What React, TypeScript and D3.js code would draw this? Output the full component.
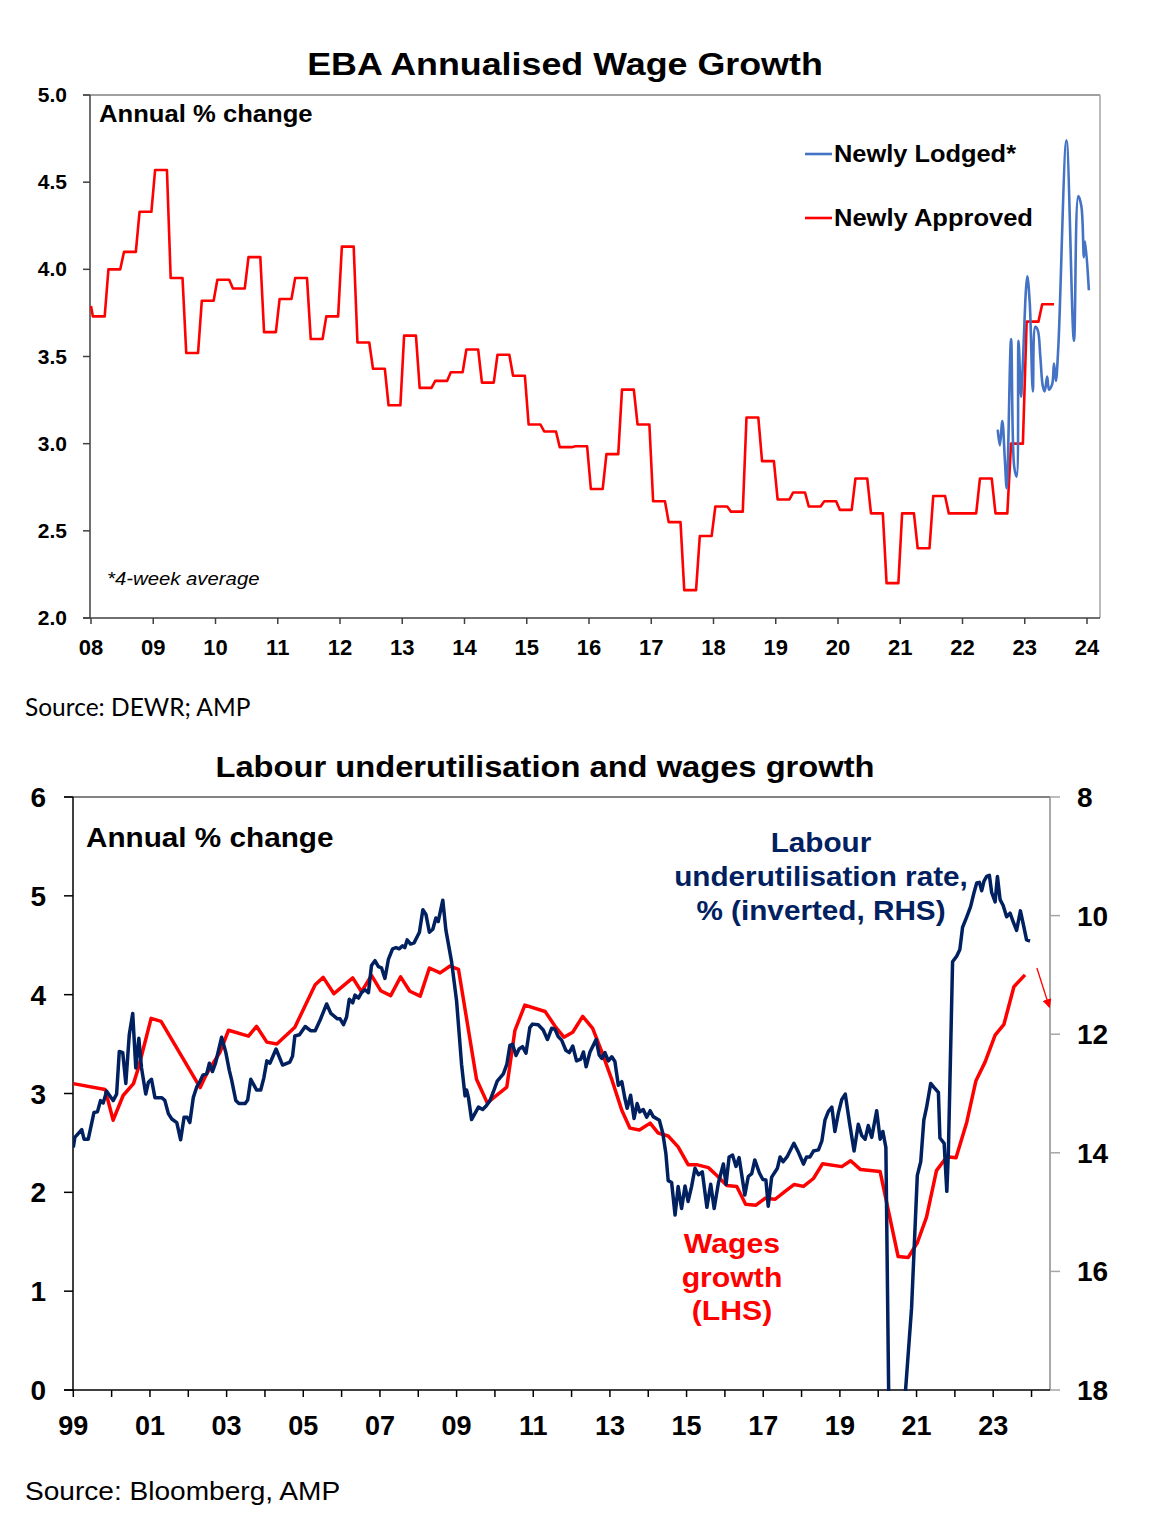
import React, { useEffect } from 'react';
import * as d3 from 'd3';

// ---------- EBA chart data ----------
// Newly approved: quarterly, first quarter = 2008 Q1
const approvedStartYear = 2008;
const approvedPrior = 3.79; // value at the left edge (end of 2007 Q4)
const approvedValues = [
  3.73, 4.0, 4.1, 4.33,
  4.57, 3.95, 3.52, 3.82,
  3.94, 3.89, 4.07, 3.64,
  3.83, 3.95, 3.6, 3.73,
  4.13, 3.58, 3.43, 3.22,
  3.62, 3.32, 3.36, 3.41,
  3.54, 3.35, 3.51, 3.39,
  3.11, 3.07, 2.98, 2.985,
  2.74, 2.94, 3.31, 3.11,
  2.67, 2.55, 2.16, 2.47,
  2.64, 2.61, 3.15, 2.9,
  2.68, 2.72, 2.64, 2.67,
  2.62, 2.8, 2.6, 2.2,
  2.6, 2.4, 2.7, 2.6,
  2.6, 2.8, 2.6, 3.0,
  3.7, 3.8,
];

// Newly lodged (4-week average): [year, %]
const lodged: [number, number][] = [
  [2022.566, 3.08], [2022.6, 2.99], [2022.64, 3.13], [2022.68, 2.91], [2022.71, 2.745],
  [2022.78, 3.6], [2022.83, 2.87], [2022.87, 2.81], [2022.9, 3.59], [2022.94, 3.27],
  [2022.96, 3.38], [2023.04, 3.96], [2023.08, 3.81], [2023.13, 3.3], [2023.17, 3.67],
  [2023.21, 3.65], [2023.25, 3.5], [2023.29, 3.33], [2023.32, 3.3], [2023.36, 3.385],
  [2023.39, 3.31], [2023.44, 3.34], [2023.47, 3.46], [2023.5, 3.36], [2023.54, 3.56],
  [2023.67, 4.74], [2023.79, 3.59], [2023.86, 4.42], [2023.91, 4.36], [2023.95, 4.07],
  [2023.97, 4.16], [2024.03, 3.88],
];

const ebaYTicks = [2.0, 2.5, 3.0, 3.5, 4.0, 4.5, 5.0];
const ebaYears = [2008, 2009, 2010, 2011, 2012, 2013, 2014, 2015, 2016, 2017, 2018, 2019, 2020, 2021, 2022, 2023, 2024];

// ---------- Labour chart data ----------
// Wages growth, annual % (LHS): [year, %]
const wages: [number, number][] = [
  [1999.0, 3.1], [1999.83, 3.04], [2000.04, 2.73], [2000.3, 2.98], [2000.57, 3.1], [2000.7, 3.26],
  [2001.03, 3.76], [2001.29, 3.73], [2002.31, 3.06], [2002.48, 3.2], [2002.83, 3.42], [2003.05, 3.64],
  [2003.57, 3.58], [2003.78, 3.68], [2004.05, 3.52], [2004.31, 3.5], [2004.78, 3.67], [2005.31, 4.1],
  [2005.52, 4.175], [2005.8, 4.01], [2006.29, 4.17], [2006.52, 4.03], [2006.78, 4.195], [2007.02, 4.04],
  [2007.28, 3.99], [2007.54, 4.18], [2007.78, 4.035], [2008.05, 3.985], [2008.29, 4.27], [2008.57, 4.22],
  [2008.83, 4.29], [2009.05, 4.255], [2009.52, 3.145], [2009.8, 2.905], [2010.31, 3.065], [2010.52, 3.635],
  [2010.78, 3.895], [2011.31, 3.83], [2011.57, 3.68], [2011.8, 3.57], [2012.03, 3.62], [2012.29, 3.78],
  [2012.55, 3.66], [2012.79, 3.42], [2013.05, 3.14], [2013.31, 2.83], [2013.52, 2.65], [2013.77, 2.63],
  [2014.05, 2.7], [2014.26, 2.6], [2014.52, 2.57], [2014.78, 2.46], [2015.04, 2.28], [2015.26, 2.28],
  [2015.57, 2.25], [2015.79, 2.17], [2016.05, 2.07], [2016.31, 2.06], [2016.54, 1.88], [2016.81, 1.87],
  [2017.05, 1.94], [2017.31, 1.93], [2017.57, 2.01], [2017.81, 2.08], [2018.05, 2.06], [2018.31, 2.14],
  [2018.55, 2.29], [2019.05, 2.26], [2019.28, 2.32], [2019.54, 2.23], [2020.05, 2.21], [2020.29, 1.77],
  [2020.52, 1.35], [2020.78, 1.34], [2021.02, 1.49], [2021.26, 1.75], [2021.52, 2.22], [2021.79, 2.36],
  [2022.03, 2.35], [2022.31, 2.71], [2022.55, 3.13], [2022.79, 3.32], [2023.05, 3.59], [2023.28, 3.7],
  [2023.54, 4.08], [2023.83, 4.2],
];

// Labour underutilisation rate, % (RHS, inverted): [year, %]
const underutil: [number, number][] = [
  [1999.0, 13.91], [1999.04, 13.74], [1999.22, 13.61], [1999.28, 13.77], [1999.39, 13.77], [1999.54, 13.32],
  [1999.63, 13.31], [1999.71, 13.12], [1999.78, 13.16], [1999.87, 12.96], [2000.04, 13.12], [2000.13, 13.01],
  [2000.2, 12.29], [2000.29, 12.31], [2000.37, 12.83], [2000.46, 12.01], [2000.55, 11.65], [2000.63, 12.57],
  [2000.71, 12.07], [2000.78, 12.57], [2000.89, 13.01], [2000.96, 12.81], [2001.04, 12.76], [2001.13, 13.07],
  [2001.31, 13.07], [2001.39, 13.12], [2001.48, 13.34], [2001.57, 13.43], [2001.7, 13.49], [2001.8, 13.78],
  [2001.89, 13.4], [2001.97, 13.4], [2002.04, 13.49], [2002.13, 13.07], [2002.22, 12.89], [2002.31, 12.79],
  [2002.38, 12.69], [2002.48, 12.67], [2002.55, 12.49], [2002.63, 12.63], [2002.71, 12.49], [2002.87, 12.05],
  [2002.98, 12.31], [2003.07, 12.61], [2003.13, 12.77], [2003.24, 13.12], [2003.32, 13.17], [2003.48, 13.17],
  [2003.55, 13.11], [2003.63, 12.76], [2003.78, 12.94], [2003.89, 12.94], [2003.97, 12.74], [2004.05, 12.45],
  [2004.13, 12.49], [2004.29, 12.25], [2004.46, 12.52], [2004.65, 12.47], [2004.72, 12.37], [2004.78, 12.03],
  [2004.9, 12.01], [2005.05, 11.87], [2005.19, 11.94], [2005.31, 11.94], [2005.44, 11.76], [2005.61, 11.49],
  [2005.72, 11.65], [2005.89, 11.74], [2005.96, 11.74], [2006.05, 11.84], [2006.13, 11.71], [2006.2, 11.41],
  [2006.29, 11.47], [2006.35, 11.34], [2006.44, 11.39], [2006.52, 11.3], [2006.61, 11.25], [2006.7, 11.3],
  [2006.78, 10.84], [2006.87, 10.76], [2006.96, 10.86], [2007.04, 10.88], [2007.13, 11.06], [2007.22, 10.74],
  [2007.33, 10.56], [2007.42, 10.54], [2007.5, 10.56], [2007.59, 10.51], [2007.65, 10.54], [2007.71, 10.41],
  [2007.8, 10.48], [2007.89, 10.46], [2008.03, 10.28], [2008.12, 9.9], [2008.2, 9.98], [2008.29, 10.28],
  [2008.38, 10.23], [2008.46, 10.04], [2008.52, 10.1], [2008.64, 9.74], [2008.72, 10.24], [2008.87, 10.78],
  [2009.0, 11.44], [2009.13, 12.51], [2009.22, 13.04], [2009.26, 12.94], [2009.31, 13.07], [2009.39, 13.44],
  [2009.57, 13.23], [2009.68, 13.27], [2009.77, 13.21], [2009.87, 13.12], [2009.96, 12.97], [2010.06, 12.79],
  [2010.22, 12.67], [2010.31, 12.51], [2010.39, 12.19], [2010.46, 12.17], [2010.55, 12.36], [2010.63, 12.25],
  [2010.72, 12.21], [2010.81, 12.32], [2010.91, 11.89], [2010.98, 11.83], [2011.13, 11.84], [2011.26, 11.93],
  [2011.37, 12.09], [2011.48, 11.9], [2011.57, 11.92], [2011.65, 12.04], [2011.74, 12.1], [2011.85, 12.27],
  [2011.94, 12.31], [2012.03, 12.2], [2012.13, 12.45], [2012.24, 12.42], [2012.31, 12.3], [2012.38, 12.55],
  [2012.48, 12.3], [2012.55, 12.21], [2012.64, 12.09], [2012.72, 12.35], [2012.79, 12.41], [2012.87, 12.31],
  [2012.96, 12.45], [2013.05, 12.38], [2013.13, 12.46], [2013.22, 12.86], [2013.31, 12.8], [2013.39, 13.08],
  [2013.45, 13.25], [2013.54, 13.03], [2013.63, 13.42], [2013.71, 13.17], [2013.78, 13.31], [2013.87, 13.27],
  [2013.96, 13.4], [2014.05, 13.29], [2014.13, 13.39], [2014.29, 13.45], [2014.38, 13.67], [2014.46, 14.01],
  [2014.52, 14.47], [2014.61, 14.5], [2014.7, 15.05], [2014.78, 14.57], [2014.87, 14.94], [2014.96, 14.56],
  [2015.04, 14.82], [2015.13, 14.57], [2015.22, 14.26], [2015.31, 14.37], [2015.41, 14.32], [2015.53, 14.92],
  [2015.63, 14.53], [2015.72, 14.94], [2015.83, 14.51], [2015.96, 14.19], [2016.03, 14.53], [2016.11, 14.07],
  [2016.2, 14.04], [2016.29, 14.23], [2016.37, 14.08], [2016.52, 14.71], [2016.61, 14.4], [2016.7, 14.35],
  [2016.78, 14.12], [2016.9, 14.34], [2016.99, 14.45], [2017.07, 14.46], [2017.13, 14.9], [2017.22, 14.41],
  [2017.37, 14.26], [2017.44, 14.07], [2017.52, 14.15], [2017.62, 14.07], [2017.8, 13.84], [2017.91, 13.98],
  [2018.05, 14.19], [2018.13, 14.07], [2018.22, 14.07], [2018.31, 13.97], [2018.44, 13.95], [2018.53, 13.8],
  [2018.61, 13.45], [2018.7, 13.3], [2018.79, 13.23], [2018.87, 13.64], [2018.96, 13.33], [2019.05, 13.1],
  [2019.14, 13.01], [2019.25, 13.49], [2019.37, 13.97], [2019.48, 13.52], [2019.57, 13.71], [2019.66, 13.77],
  [2019.74, 13.54], [2019.83, 13.74], [2019.96, 13.29], [2020.05, 13.77], [2020.12, 13.64], [2020.2, 13.91],
  [2020.3, 19.6], [2020.6, 19.0], [2020.87, 16.62], [2021.02, 14.38], [2021.11, 14.15], [2021.19, 13.45],
  [2021.26, 13.24], [2021.37, 12.83], [2021.46, 12.9], [2021.57, 12.98], [2021.61, 13.75], [2021.72, 13.84],
  [2021.79, 14.65], [2021.83, 14.0], [2021.94, 10.78], [2022.05, 10.68], [2022.13, 10.57], [2022.2, 10.2],
  [2022.31, 10.02], [2022.41, 9.85], [2022.5, 9.61], [2022.57, 9.45], [2022.64, 9.44], [2022.7, 9.58],
  [2022.76, 9.42], [2022.83, 9.34], [2022.9, 9.32], [2022.96, 9.61], [2023.05, 9.77], [2023.11, 9.34],
  [2023.18, 9.73], [2023.26, 9.83], [2023.35, 10.02], [2023.44, 9.96], [2023.52, 10.1], [2023.61, 10.25],
  [2023.71, 9.92], [2023.8, 10.19], [2023.87, 10.41], [2023.96, 10.43],
];

const labLeftTicks = [0, 1, 2, 3, 4, 5, 6];
const labRightTicks = [8, 10, 12, 14, 16, 18];
const labYears = d3.range(1999, 2025);
const labYearLabels = ['99', '01', '03', '05', '07', '09', '11', '13', '15', '17', '19', '21', '23'];
// arrow annotation (start / end), LHS units
const arrowFrom: [number, number] = [2024.14, 4.27];
const arrowTo: [number, number] = [2024.46, 3.88];

const ARIAL = 'Arial, "Liberation Sans", Helvetica, sans-serif';
const RED = '#FF0000';
const NAVY = '#002060';
const BLUE = '#4472C4';

// text that is stretched horizontally (the source rendering is wider than Arial here)
interface STextProps {
  x: number;
  y: number;
  sx?: number;
  anchor?: 'start' | 'middle' | 'end';
  size: number;
  bold?: boolean;
  italic?: boolean;
  fill?: string;
  family?: string;
  children: React.ReactNode;
}
const SText: React.FC<STextProps> = ({ x, y, sx = 1, anchor = 'start', size, bold, italic, fill = '#000', family = ARIAL, children }) => (
  <text
    transform={`translate(${x},${y}) scale(${sx},1)`}
    textAnchor={anchor}
    fontFamily={family}
    fontSize={size}
    fontWeight={bold ? 'bold' : 'normal'}
    fontStyle={italic ? 'italic' : 'normal'}
    fill={fill}
  >
    {children}
  </text>
);

const EbaChart: React.FC = () => {
  const box = { left: 90, right: 1100, top: 95, bottom: 618 };
  const x = d3.scaleLinear().domain([2008, 2024]).range([91, 1087]);
  const y = d3.scaleLinear().domain([2, 5]).range([box.bottom, box.top]);

  const stepPts: [number, number][] = [[approvedStartYear, approvedPrior]];
  approvedValues.forEach((v, i) => {
    const t = approvedStartYear + i / 4;
    stepPts.push([t + 0.03, v], [t + 0.22, v]);
  });
  const line = d3.line<[number, number]>().x(d => x(d[0])).y(d => y(d[1]));
  const smooth = d3.line<[number, number]>().x(d => x(d[0])).y(d => y(d[1])).curve(d3.curveCatmullRom.alpha(0.5));

  return (
    <g>
      <SText x={565} y={75} anchor="middle" size={32} bold sx={1.12}>EBA Annualised Wage Growth</SText>
      {/* frame */}
      <line x1={box.left - 7} x2={box.right} y1={box.top} y2={box.top} stroke="#7f7f7f" strokeWidth={1.5} />
      <line x1={box.right} x2={box.right} y1={box.top} y2={box.bottom} stroke="#a6a6a6" strokeWidth={1.5} />
      <line x1={box.left} x2={box.left} y1={box.top} y2={box.bottom} stroke="#404040" strokeWidth={1.5} />
      <line x1={box.left - 7} x2={box.right} y1={box.bottom} y2={box.bottom} stroke="#404040" strokeWidth={1.5} />
      {ebaYTicks.map(t => (
        <g key={t}>
          <line x1={box.left - 7} x2={box.left} y1={y(t)} y2={y(t)} stroke="#404040" strokeWidth={1.5} />
          <text x={67} y={y(t) + 7} textAnchor="end" fontFamily={ARIAL} fontWeight="bold" fontSize={21}>
            {t.toFixed(1)}
          </text>
        </g>
      ))}
      {ebaYears.map(yr => (
        <g key={yr}>
          <line x1={x(yr)} x2={x(yr)} y1={box.bottom} y2={box.bottom + 6} stroke="#404040" strokeWidth={1.5} />
          <text x={x(yr)} y={655} textAnchor="middle" fontFamily={ARIAL} fontWeight="bold" fontSize={22}>
            {String(yr % 100).padStart(2, '0')}
          </text>
        </g>
      ))}
      <SText x={99} y={122} size={23} bold sx={1.115}>Annual % change</SText>
      <SText x={107} y={585} size={18} italic sx={1.13}>*4-week average</SText>

      <path d={line(stepPts) || ''} fill="none" stroke={RED} strokeWidth={2.6} strokeLinejoin="round" />
      <path d={smooth(lodged) || ''} fill="none" stroke={BLUE} strokeWidth={2.6} strokeLinejoin="round" />

      {/* legend */}
      <line x1={805} x2={832} y1={154} y2={154} stroke={BLUE} strokeWidth={2.6} />
      <SText x={834} y={162} size={23} bold sx={1.105}>Newly Lodged*</SText>
      <line x1={805} x2={832} y1={218} y2={218} stroke={RED} strokeWidth={2.6} />
      <SText x={834} y={226} size={23} bold sx={1.11}>Newly Approved</SText>

      <SText x={25} y={716} size={24.5} family='Lato, "Open Sans", sans-serif'>Source: DEWR; AMP</SText>
    </g>
  );
};

const LabourChart: React.FC = () => {
  const box = { left: 73, right: 1050, top: 797, bottom: 1390 };
  const x = d3.scaleLinear().domain([1999, 2024.5]).range([73.3, 1050.7]);
  const yL = d3.scaleLinear().domain([0, 6]).range([box.bottom, box.top]);
  const yR = d3.scaleLinear().domain([8, 18]).range([box.top, box.bottom]);

  const wLine = d3.line<[number, number]>().x(d => x(d[0])).y(d => yL(d[1]));
  const uLine = d3.line<[number, number]>().x(d => x(d[0])).y(d => yR(d[1]));

  return (
    <g>
      <defs>
        <clipPath id="labClip">
          <rect x={box.left} y={box.top - 5} width={box.right - box.left} height={box.bottom - box.top + 6} />
        </clipPath>
        <marker id="arrowHead" viewBox="0 0 10 10" refX="8" refY="5" markerWidth="7" markerHeight="7" orient="auto">
          <path d="M0,0 L10,5 L0,10 z" fill={RED} />
        </marker>
      </defs>
      <SText x={545} y={777} anchor="middle" size={30} bold sx={1.09}>Labour underutilisation and wages growth</SText>
      <line x1={box.left - 9} x2={box.right} y1={box.top} y2={box.top} stroke="#595959" strokeWidth={1.5} />
      <line x1={box.right} x2={box.right} y1={box.top} y2={box.bottom} stroke="#8c8c8c" strokeWidth={1.5} />
      <line x1={box.left} x2={box.left} y1={box.top} y2={box.bottom} stroke="#000" strokeWidth={1.5} />
      <line x1={box.left - 9} x2={box.right} y1={box.bottom} y2={box.bottom} stroke="#000" strokeWidth={1.5} />
      {labLeftTicks.map(t => (
        <g key={t}>
          <line x1={box.left - 9} x2={box.left} y1={yL(t)} y2={yL(t)} stroke="#000" strokeWidth={1.5} />
          <text x={46} y={yL(t) + 10} textAnchor="end" fontFamily={ARIAL} fontWeight="bold" fontSize={28}>{t}</text>
        </g>
      ))}
      {labRightTicks.map(t => (
        <g key={t}>
          <line x1={box.right} x2={box.right + 10} y1={yR(t)} y2={yR(t)} stroke="#a6a6a6" strokeWidth={1.5} />
          <text x={1077} y={yR(t) + 10} fontFamily={ARIAL} fontWeight="bold" fontSize={28}>{t}</text>
        </g>
      ))}
      {labYears.map(yr => (
        <line key={yr} x1={x(yr)} x2={x(yr)} y1={box.bottom} y2={box.bottom + 7} stroke="#000" strokeWidth={1.5} />
      ))}
      {labYearLabels.map((lab, i) => (
        <text key={lab} x={x(1999 + i * 2)} y={1435} textAnchor="middle" fontFamily={ARIAL} fontWeight="bold" fontSize={27}>
          {lab}
        </text>
      ))}
      <SText x={86} y={847} size={27} bold sx={1.1}>Annual % change</SText>

      <g clipPath="url(#labClip)">
        <path d={wLine(wages) || ''} fill="none" stroke={RED} strokeWidth={3.5} strokeLinejoin="round" />
        <path d={uLine(underutil) || ''} fill="none" stroke={NAVY} strokeWidth={3.5} strokeLinejoin="round" />
      </g>
      <line
        x1={x(arrowFrom[0])} y1={yL(arrowFrom[1])} x2={x(arrowTo[0])} y2={yL(arrowTo[1])}
        stroke={RED} strokeWidth={1.3} markerEnd="url(#arrowHead)"
      />

      <SText x={821} y={852} anchor="middle" size={27} bold fill={NAVY} sx={1.1}>Labour</SText>
      <SText x={821} y={886} anchor="middle" size={27} bold fill={NAVY} sx={1.1}>underutilisation rate,</SText>
      <SText x={821} y={920} anchor="middle" size={27} bold fill={NAVY} sx={1.1}>% (inverted, RHS)</SText>

      <SText x={732} y={1253} anchor="middle" size={27} bold fill={RED} sx={1.12}>Wages</SText>
      <SText x={732} y={1287} anchor="middle" size={27} bold fill={RED} sx={1.12}>growth</SText>
      <SText x={732} y={1320} anchor="middle" size={27} bold fill={RED} sx={1.12}>(LHS)</SText>

      <SText x={25} y={1500} size={26} sx={1.08}>Source: Bloomberg, AMP</SText>
    </g>
  );
};

export default function App() {
  useEffect(() => {
    document.body.style.margin = '0';
  }, []);
  return (
    <svg width={1152} height={1520} viewBox="0 0 1152 1520" style={{ display: 'block', background: '#fff' }}>
      <rect width={1152} height={1520} fill="#fff" />
      <EbaChart />
      <LabourChart />
    </svg>
  );
}
